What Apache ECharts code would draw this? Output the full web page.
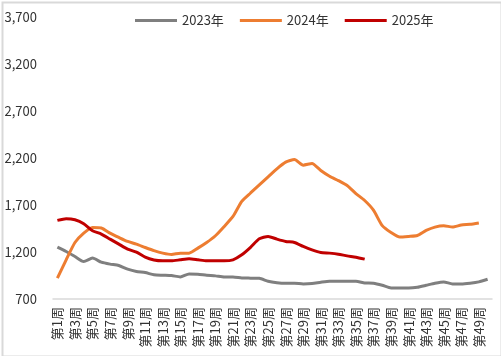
<!DOCTYPE html>
<html>
<head>
<meta charset="utf-8">
<script src="https://cdn.jsdelivr.net/npm/echarts@6/dist/echarts.min.js"></script>
<style>
html,body{margin:0;padding:0;background:#fff;}
#c{width:501px;height:356px;}
</style>
</head>
<body>
<div id="c"></div>
<script>
var categories = [];
for (var i = 1; i <= 50; i++) categories.push('第' + i + '周');

var seriesNames = ['2023年', '2024年', '2025年'];

var data2023 = [1252,1205,1152,1099,1135,1092,1071,1056,1017,992,981,958,953,949,935,967,963,953,946,935,
                935,924,922,920,889,874,868,868,860,864,878,889,889,889,889,871,868,846,817,817,
                817,825,846,868,882,860,860,868,882,910];
var data2024 = [921,1117,1301,1401,1461,1455,1401,1355,1312,1284,1248,1214,1188,1173,1188,1188,1241,1301,1373,1472,
                1579,1739,1828,1915,2000,2085,2156,2184,2124,2142,2067,2006,1960,1907,1821,1748,1645,1480,1408,1359,
                1366,1376,1429,1465,1480,1465,1487,1494,1508];
var data2025 = [1536,1554,1543,1501,1426,1391,1337,1284,1231,1199,1145,1115,1106,1106,1117,1127,1117,1106,1106,1106,
                1117,1170,1250,1340,1366,1337,1312,1301,1259,1223,1195,1188,1177,1159,1145,1124];

var yMin = 700, yMax = 3700, yStep = 500;
var colors = ['#7f7f7f', '#ed7d31', '#c00000'];

var chart = echarts.init(document.getElementById('c'), null, {renderer: 'canvas'});
var font = '"Noto Sans CJK SC", "Noto Sans", sans-serif';
chart.setOption({
  animation: false,
  color: colors,
  textStyle: {fontFamily: font},
  graphic: [{
    type: 'rect', left: 0, top: 0, silent: true,
    shape: {x: 1, y: 1, width: 499, height: 354},
    style: {fill: 'none', stroke: '#d9d9d9', lineWidth: 2}
  }],
  legend: {
    left: 130, top: 9,
    icon: 'rect', itemWidth: 42, itemHeight: 3, itemGap: 16,
    textStyle: {fontSize: 13, color: '#333', fontFamily: font},
    data: seriesNames
  },
  grid: {left: 53, right: 9, top: 17, bottom: 57, containLabel: false},
  xAxis: {
    type: 'category', data: categories, boundaryGap: true,
    axisLine: {lineStyle: {color: '#d9d9d9', width: 1.5}},
    axisTick: {show: false},
    axisLabel: {rotate: 90, interval: 1, margin: 8, fontSize: 13, color: '#333', fontFamily: font}
  },
  yAxis: {
    type: 'value', min: yMin, max: yMax, interval: yStep,
    axisLine: {show: false}, axisTick: {show: false},
    splitLine: {show: false},
    axisLabel: {margin: 16, fontSize: 13, color: '#333', fontFamily: font,
      formatter: function (v) { return v.toLocaleString('en-US'); }}
  },
  series: [
    {name: seriesNames[0], type: 'line', data: data2023, symbol: 'none', smooth: 0.2, lineStyle: {width: 3, color: colors[0]}},
    {name: seriesNames[1], type: 'line', data: data2024, symbol: 'none', smooth: 0.2, lineStyle: {width: 3, color: colors[1]}},
    {name: seriesNames[2], type: 'line', data: data2025, symbol: 'none', smooth: 0.2, lineStyle: {width: 3, color: colors[2]}}
  ]
});
</script>
</body>
</html>
